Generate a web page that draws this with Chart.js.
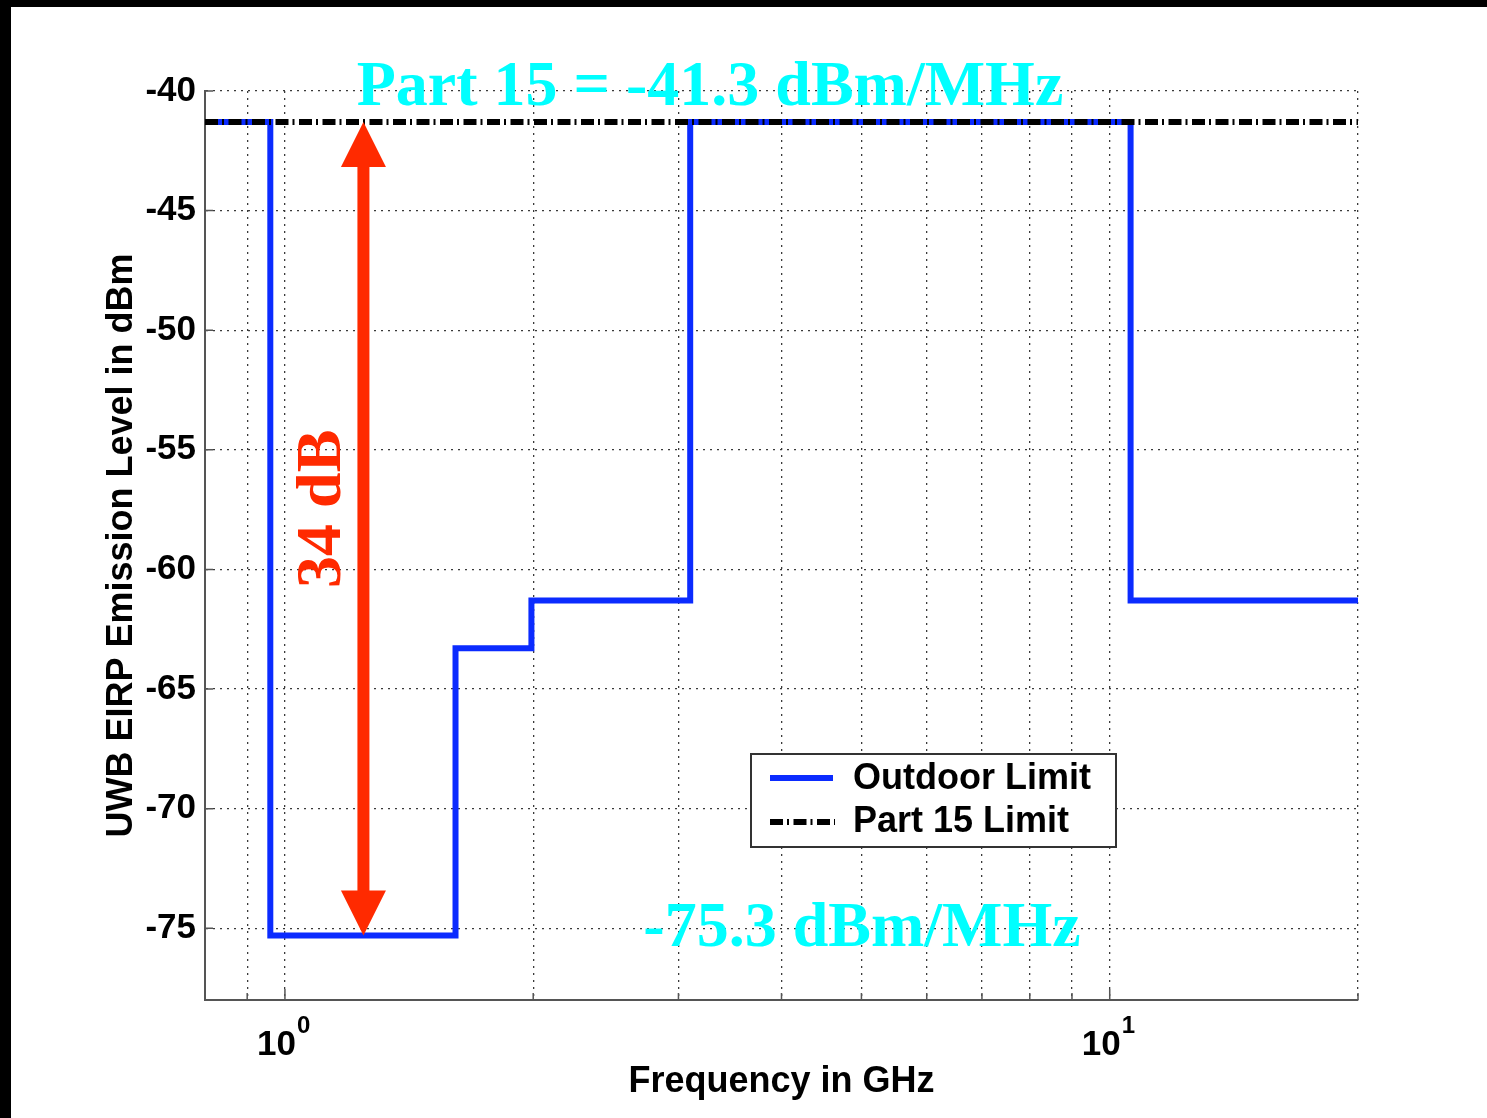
<!DOCTYPE html>
<html>
<head>
<meta charset="utf-8">
<title>UWB outdoor emission limit</title>
<script src="https://cdn.jsdelivr.net/npm/chart.js@4.4.0/dist/chart.umd.min.js"></script>
<style>
  html, body { margin: 0; padding: 0; background: #000; }
  #frame { position: absolute; left: 11px; top: 7px; width: 1476px; height: 1111px; background: #fff; }
</style>
</head>
<body>
<div id="frame"><canvas id="uwb" width="1476" height="1111"></canvas></div>
<script>
// band edges (GHz) and the outdoor EIRP level that starts at each edge
var bandEdges = [0.8, 0.96, 1.61, 1.99, 3.1, 10.6, 20];
var outdoorLimit = [-41.3, -75.3, -63.3, -61.3, -41.3, -61.3, -61.3];

// Part 15 general limit across the whole span
var part15Freq = [0.8, 20];
var part15Limit = [-41.3, -41.3];

// axis ticks
var gridFreqs = [0.8, 0.9, 1, 2, 3, 4, 5, 6, 7, 8, 9, 10, 20];
var decades = [1, 10];
var levelTicks = [-75, -70, -65, -60, -55, -50, -45, -40];

// 34 dB span marked by the double arrow
var arrowFreq = 1.245;
var arrowTop = -41.3;
var arrowBottom = -75.3;

var SANS = "'Liberation Sans', Arial, Helvetica, sans-serif";
var SERIF = "'Liberation Serif', 'Times New Roman', serif";
var BLUE = '#0b2bff';
var RED = '#ff2a00';
var CYAN = '#00ffff';
var DASH_DOT = [13, 4, 2, 4.5];

function points(xs, ys) {
  var out = [];
  for (var i = 0; i < xs.length; i++) out.push({ x: xs[i], y: ys[i] });
  return out;
}

function dashDot(ctx, x1, y, x2) {
  ctx.save();
  ctx.strokeStyle = '#000';
  ctx.lineWidth = 6;
  ctx.setLineDash(DASH_DOT);
  ctx.beginPath();
  ctx.moveTo(x1, y);
  ctx.lineTo(x2, y);
  ctx.stroke();
  ctx.restore();
}

var annotate = {
  id: 'annotate',
  afterDatasetsDraw: function (chart) {
    var ctx = chart.ctx;
    var xs = chart.scales.x;
    var ys = chart.scales.y;
    var area = chart.chartArea;
    ctx.save();

    // small inward tick marks
    ctx.strokeStyle = '#555';
    ctx.lineWidth = 1.5;
    ctx.beginPath();
    gridFreqs.forEach(function (f) {
      var px = xs.getPixelForValue(f);
      var len = decades.indexOf(f) >= 0 ? 11 : 7;
      ctx.moveTo(px, area.bottom);
      ctx.lineTo(px, area.bottom - len);
    });
    levelTicks.forEach(function (v) {
      var py = ys.getPixelForValue(v);
      ctx.moveTo(area.left, py);
      ctx.lineTo(area.left + 8, py);
    });
    ctx.stroke();

    // decade labels 10^0, 10^1
    ctx.fillStyle = '#000';
    ctx.textBaseline = 'alphabetic';
    decades.forEach(function (f) {
      var px = xs.getPixelForValue(f);
      var exp = String(Math.round(Math.log10(f)));
      ctx.font = 'bold 35px ' + SANS;
      ctx.textAlign = 'right';
      ctx.fillText('10', px + 11, area.bottom + 55);
      ctx.font = 'bold 24px ' + SANS;
      ctx.textAlign = 'left';
      ctx.fillText(exp, px + 12, area.bottom + 33);
    });

    // double arrow
    var ax = xs.getPixelForValue(arrowFreq);
    var yTop = ys.getPixelForValue(arrowTop);
    var yBot = ys.getPixelForValue(arrowBottom);
    var head = 45, half = 22.5, shaft = 6;
    ctx.fillStyle = RED;
    ctx.fillRect(ax - shaft, yTop + head - 1, shaft * 2, (yBot - head) - (yTop + head) + 2);
    ctx.beginPath();
    ctx.moveTo(ax, yTop);
    ctx.lineTo(ax + half, yTop + head);
    ctx.lineTo(ax - half, yTop + head);
    ctx.closePath();
    ctx.fill();
    ctx.beginPath();
    ctx.moveTo(ax, yBot);
    ctx.lineTo(ax + half, yBot - head);
    ctx.lineTo(ax - half, yBot - head);
    ctx.closePath();
    ctx.fill();

    // span label
    ctx.save();
    ctx.translate(ax - 23, (yTop + yBot) / 2 - 20);
    ctx.rotate(-Math.PI / 2);
    ctx.font = 'bold 64px ' + SERIF;
    ctx.textAlign = 'center';
    ctx.textBaseline = 'alphabetic';
    ctx.fillText('34 dB', 0, 0);
    ctx.restore();

    // level callouts
    ctx.fillStyle = CYAN;
    ctx.font = 'bold 64px ' + SERIF;
    ctx.textAlign = 'center';
    ctx.textBaseline = 'alphabetic';
    ctx.fillText('Part 15 = -41.3 dBm/MHz', area.left + 505, ys.getPixelForValue(-41.3) - 17);
    ctx.fillText('-75.3 dBm/MHz', area.left + 657, ys.getPixelForValue(-75.3) + 11);

    // legend box
    var bx = area.right - 607, by = area.bottom - 246, bw = 365, bh = 93;
    ctx.fillStyle = '#fff';
    ctx.fillRect(bx, by, bw, bh);
    ctx.strokeStyle = '#333';
    ctx.lineWidth = 2;
    ctx.strokeRect(bx, by, bw, bh);

    ctx.strokeStyle = BLUE;
    ctx.lineWidth = 6;
    ctx.beginPath();
    ctx.moveTo(bx + 19, by + 24);
    ctx.lineTo(bx + 82, by + 24);
    ctx.stroke();
    dashDot(ctx, bx + 19, by + 68, bx + 84);

    ctx.fillStyle = '#000';
    ctx.font = 'bold 36px ' + SANS;
    ctx.textAlign = 'left';
    ctx.textBaseline = 'middle';
    ctx.fillText(chart.data.datasets[0].label, bx + 102, by + 25);
    ctx.fillText(chart.data.datasets[1].label, bx + 102, by + 68);

    ctx.restore();
  }
};

new Chart(document.getElementById('uwb'), {
  type: 'line',
  data: {
    datasets: [
      {
        label: 'Outdoor Limit',
        data: points(bandEdges, outdoorLimit),
        stepped: 'before',
        borderColor: BLUE,
        borderWidth: 6,
        pointRadius: 0,
        fill: false,
        order: 1
      },
      {
        label: 'Part 15 Limit',
        data: points(part15Freq, part15Limit),
        borderColor: '#000',
        borderWidth: 6,
        borderDash: DASH_DOT,
        pointRadius: 0,
        fill: false,
        order: 0
      }
    ]
  },
  options: {
    responsive: false,
    animation: false,
    events: [],
    layout: { padding: { top: 84, right: 129, left: 0, bottom: 0 } },
    plugins: {
      legend: { display: false },
      tooltip: { enabled: false }
    },
    scales: {
      x: {
        type: 'logarithmic',
        min: 0.8,
        max: 20,
        afterBuildTicks: function (scale) {
          scale.ticks = gridFreqs.map(function (v) { return { value: v }; });
        },
        afterFit: function (scale) { scale.height = 118; },
        ticks: { display: false },
        grid: { color: '#3a3a3a', lineWidth: 1.3, drawTicks: false },
        border: { display: true, color: '#555', width: 2, dash: [2, 5] },
        title: {
          display: true,
          text: 'Frequency in GHz',
          color: '#000',
          font: { family: SANS, size: 36, weight: 'bold' },
          padding: { top: 0, bottom: 14 }
        }
      },
      y: {
        type: 'linear',
        min: -78,
        max: -40,
        afterBuildTicks: function (scale) {
          scale.ticks = levelTicks.map(function (v) { return { value: v }; });
        },
        afterFit: function (scale) { scale.width = 194; },
        ticks: {
          color: '#000',
          padding: 9,
          font: { family: SANS, size: 35, weight: 'bold' },
          callback: function (v) { return String(v); }
        },
        grid: { color: '#3a3a3a', lineWidth: 1.3, drawTicks: false },
        border: { display: true, color: '#555', width: 2, dash: [2, 5] },
        title: {
          display: true,
          text: 'UWB EIRP Emission Level in dBm',
          color: '#000',
          font: { family: SANS, size: 36, weight: 'bold' },
          padding: { top: 89, bottom: 0 }
        }
      }
    }
  },
  plugins: [annotate]
});
</script>
</body>
</html>
